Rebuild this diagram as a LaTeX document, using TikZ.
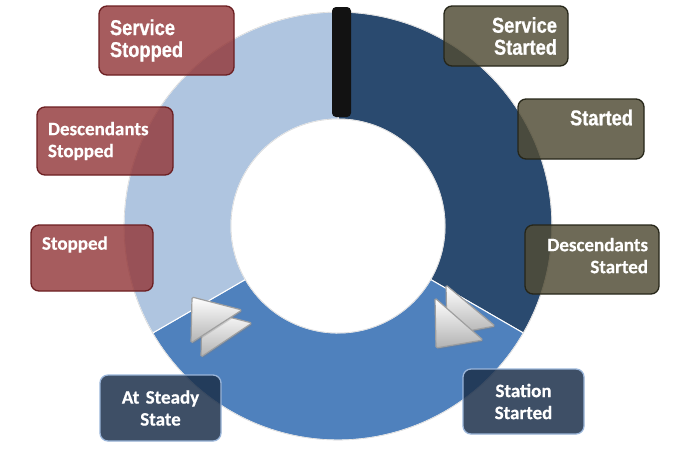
\documentclass[tikz,border=0pt]{standalone}
\usepackage{fontspec}
\newfontfamily\arialfont[FakeStretch=0.85, BoldFeatures={FakeBold=0.7}]{Liberation Sans}
\newfontfamily\calfont[BoldFeatures={FakeBold=0.4}]{Carlito}
\usetikzlibrary{calc, shadows}
\definecolor{ringlight}{RGB}{175,197,224}
\definecolor{ringmid}{RGB}{79,129,189}
\definecolor{ringdark}{RGB}{42,74,111}
\definecolor{boxred}{RGB}{147,56,58}
\definecolor{boxredline}{RGB}{107,31,34}
\definecolor{boxolive}{RGB}{81,76,53}
\definecolor{boxoliveline}{RGB}{38,38,25}
\definecolor{boxblue}{RGB}{28,48,75}
\definecolor{boxblueline}{RGB}{154,181,217}

\begin{document}
\begin{tikzpicture}[x=1pt, y=-1pt, semithick,
    statebox/.style={rounded corners=8pt, line width=1.3pt, fill opacity=.82, text opacity=1, text=white, inner xsep=11pt, inner ysep=0pt},
    redbox/.style={statebox, fill=boxred, draw=boxredline, align=left},
    olivebox/.style={statebox, fill=boxolive, draw=boxoliveline, align=right, fill opacity=.83},
    bluebox/.style={statebox, fill=boxblue, draw=boxblueline, align=center, fill opacity=.85},
    arial/.style={font=\arialfont\bfseries\fontsize{21.5}{22}\selectfont},
    calibri/.style={font=\calfont\bfseries\fontsize{19}{22}\selectfont},
    segment/.style={draw=white, line width=1pt},
    play/.style={top color=white, bottom color=gray!60, draw=gray!75, line width=1.2pt, rounded corners=1.5pt, drop shadow={shadow xshift=1pt, shadow yshift=-1.5pt, opacity=.3}}]
  \useasboundingbox (0,0) rectangle (676,451);
  \coordinate (c) at (338,226);
  \fill[ringdark, segment] ($(c)+(-90:214)$) arc[start angle=-90, end angle=30, radius=214]
    -- ($(c)+(30:107)$) arc[start angle=30, end angle=-90, radius=107] -- cycle;
  \fill[ringmid, segment] ($(c)+(30:214)$) arc[start angle=30, end angle=150, radius=214]
    -- ($(c)+(150:107)$) arc[start angle=150, end angle=30, radius=107] -- cycle;
  \fill[ringlight, segment] ($(c)+(150:214)$) arc[start angle=150, end angle=270, radius=214]
    -- ($(c)+(270:107)$) arc[start angle=270, end angle=150, radius=107] -- cycle;
  \draw[gray!30, line width=.6pt] (c) circle[radius=107];
  \draw[gray!30, line width=.6pt] (c) circle[radius=214];
  \fill[black!93, rounded corners=4pt] (332,7) rectangle (351,117);
  \path[play] (202,310) -- (252,323) -- (201,357) -- cycle;
  \path[play] (192,297) -- (242,310) -- (191,343) -- cycle;
  \path[play] (446,285) -- (495,326) -- (447,335) -- cycle;
  \path[play] (435,298) -- (483,340) -- (436,348) -- cycle;
  \node[redbox, arial, minimum width=135, minimum height=69, text width=113] (svcstop) at (166.5,40.5) {Service\\Stopped};
  \node[redbox, calibri, minimum width=136, minimum height=68, text width=114] (descstop) at (105,141) {Descendants\\Stopped};
  \node[redbox, calibri, minimum width=122, minimum height=66, text width=100, text depth=30pt] (stopped) at (92,258) {Stopped};
  \node[olivebox, arial, minimum width=124, minimum height=60, text width=102] (svcstart) at (506,36) {Service\\Started};
  \node[olivebox, arial, minimum width=126, minimum height=60, text width=104, text depth=23pt] (started) at (581,129) {Started};
  \node[olivebox, calibri, minimum width=134, minimum height=69, text width=112, text depth=30pt] (descstart) at (592,259.5) {Descendants\\Started};
  \node[bluebox, calibri, minimum width=121, minimum height=66, text width=99] (steady) at (160.5,408) {At Steady\\State};
  \node[bluebox, calibri, minimum width=121, minimum height=65, text width=99] (station) at (523.5,401.5) {Station\\Started};
\end{tikzpicture}
\end{document}
